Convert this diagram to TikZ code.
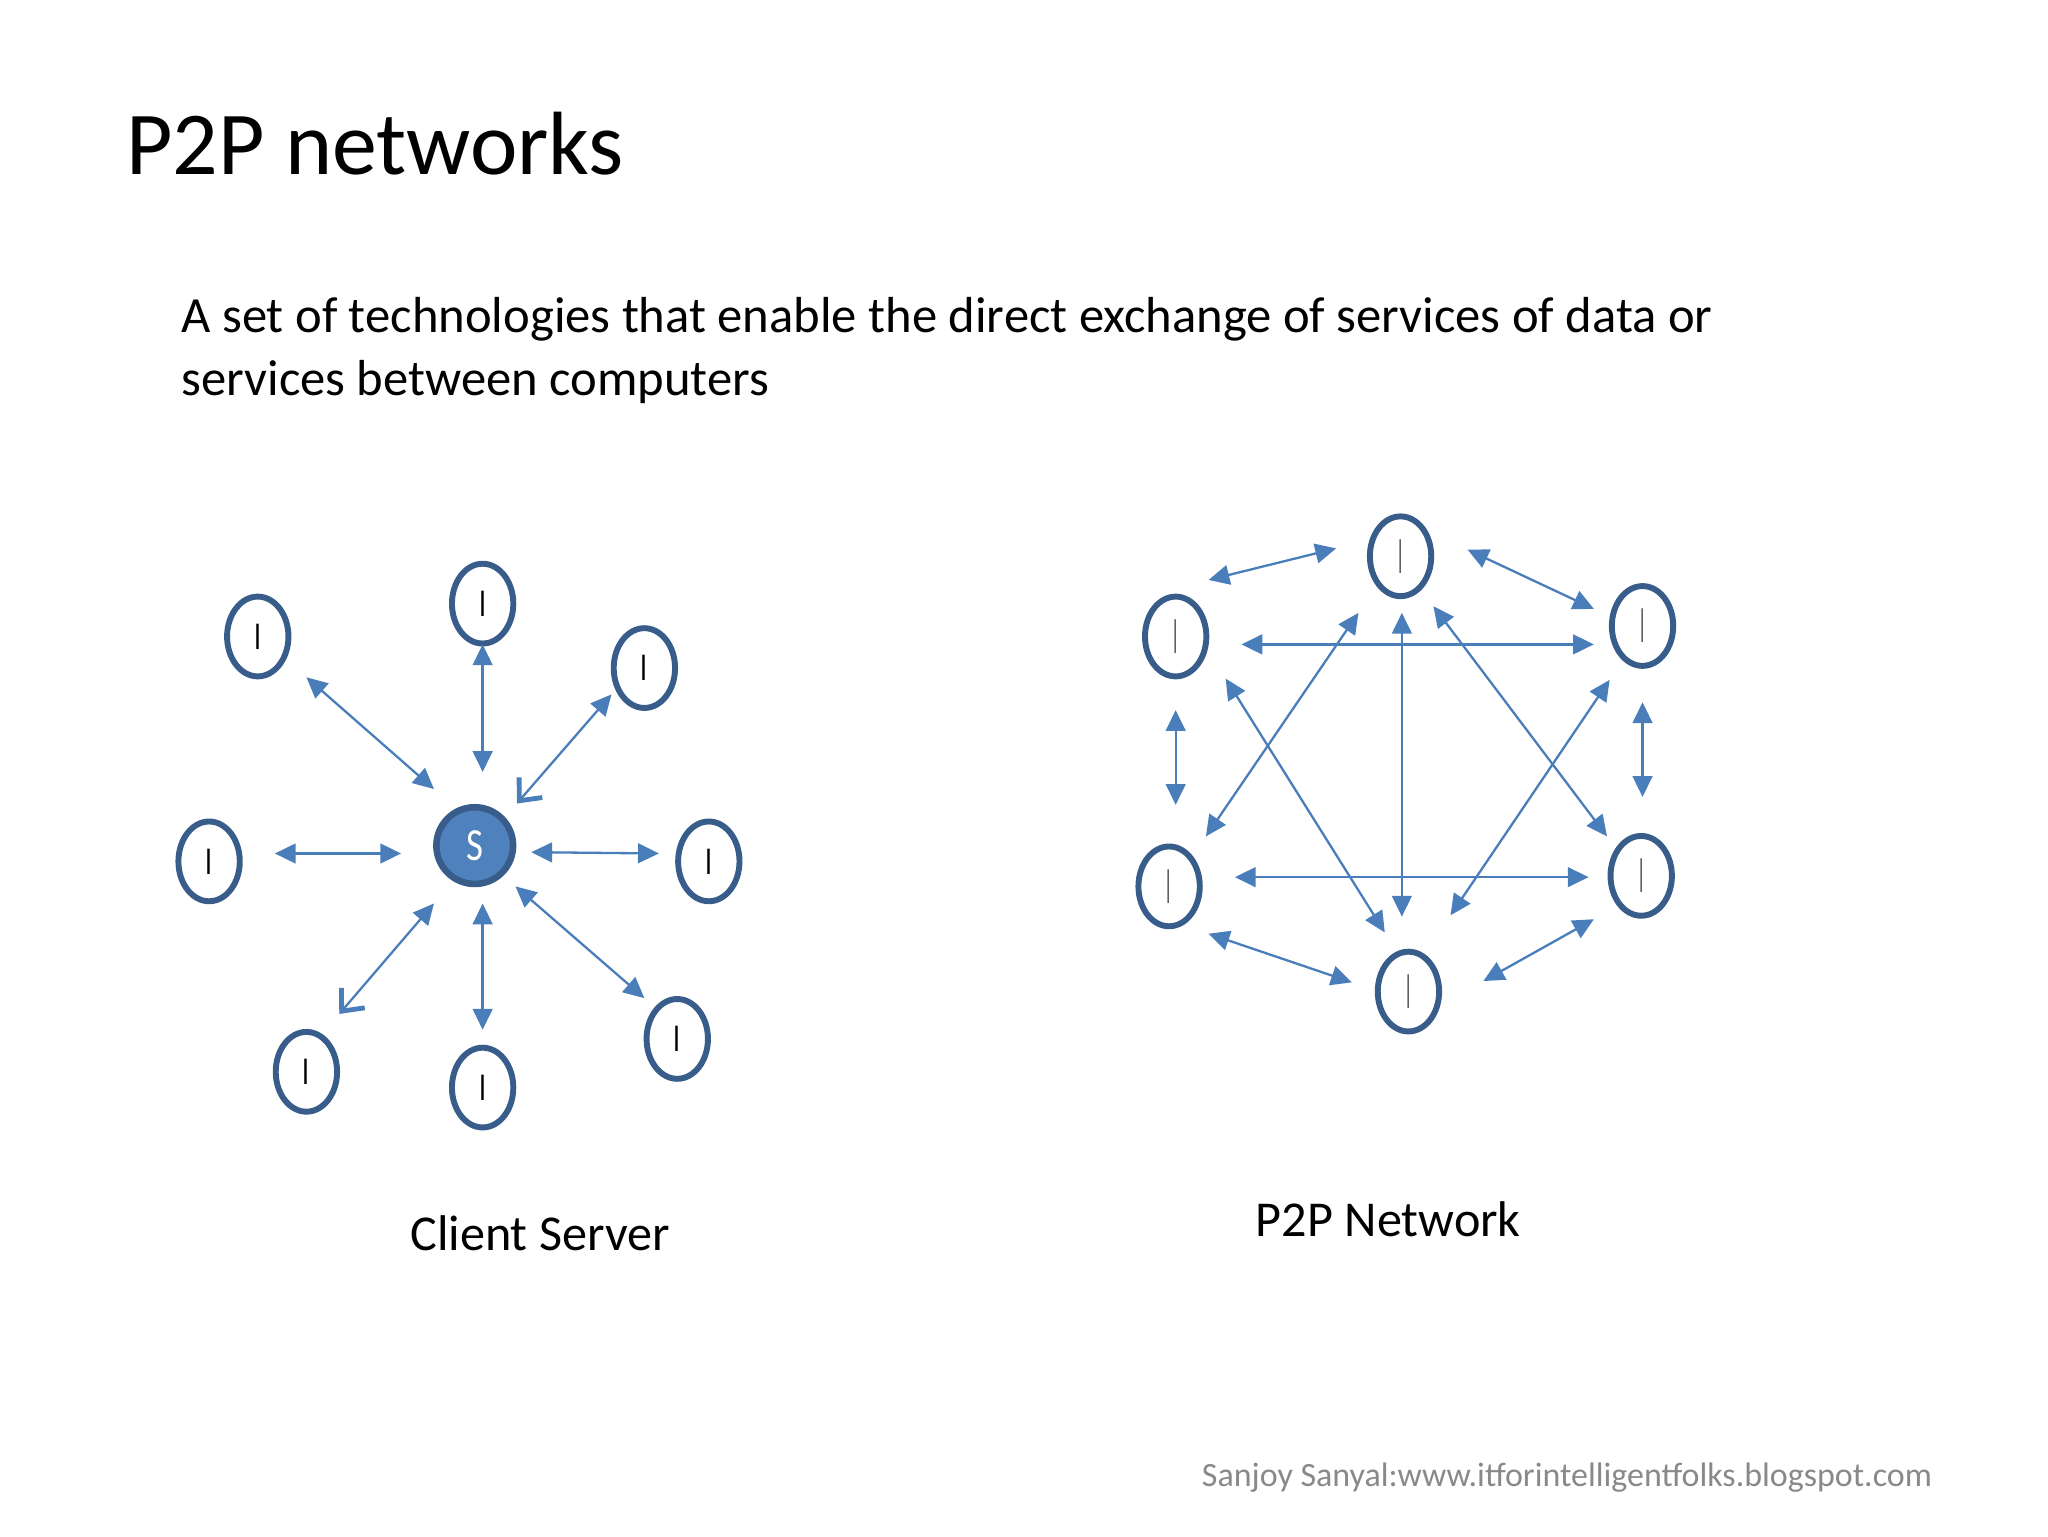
\documentclass[tikz,border=0pt]{standalone}
\usepackage{fontspec}
\setmainfont{Carlito}
\usetikzlibrary{shapes.geometric,arrows.meta,calc}
\definecolor{ring}{HTML}{385D8A}
\definecolor{link}{HTML}{4A7EBB}
\definecolor{srv}{HTML}{4F81BD}
\definecolor{foot}{HTML}{898989}
\tikzset{x=0.6pt,y=-0.6pt,
  peer/.style={draw=ring,line width=2.7pt,fill=white,ellipse,minimum width=28pt,minimum height=36.4pt,inner sep=0pt,outer sep=0pt},
  clientmark/.style={peer,font=\fontsize{18}{18}\selectfont,text=black},
  p2pmark/.style={peer,font=\fontsize{24}{24}\selectfont,text=black!65},
  server/.style={draw=ring,line width=3pt,fill=srv,circle,minimum size=35pt,inner sep=0pt,outer sep=0pt,text=white,font=\fontsize{21}{21}\selectfont},
  duplex/.style={draw=link,line width=1.05pt,{Triangle[length=9.5pt,width=9pt]}-{Triangle[length=9.5pt,width=9pt]}},
  barbed/.style={draw=link,line width=1.05pt,{Triangle[length=9.5pt,width=9pt]}-{Straight Barb[length=8pt,width=14pt,line width=2.2pt]}},
  lbl/.style={anchor=base west,inner sep=0pt,outer sep=0pt},
}
\newcommand{\thinI}{\scalebox{0.33}[1]{I}}
\newcommand{\fatI}{\scalebox{0.7}[1]{I}}
\begin{document}
\begin{tikzpicture}
\useasboundingbox (0,0) rectangle (1557.33,1168);
\node[lbl,font=\fontsize{41}{41}\selectfont] (title) at (96,133) {P2P networks};
\node[lbl,font=\fontsize{23.1}{23.1}\selectfont] (body1) at (138,253) {A set of technologies that enable the direct exchange of services of data or};
\node[lbl,font=\fontsize{23.1}{23.1}\selectfont] (body2) at (138,301) {services between computers};
\node[lbl,font=\fontsize{22.9}{22.9}\selectfont] (cap1) at (312,951) {Client Server};
\node[lbl,font=\fontsize{22.9}{22.9}\selectfont] (cap2) at (955,940) {P2P Network};
\node[lbl,font=\fontsize{15.5}{15.5}\selectfont,text=foot] (footer) at (914,1130) {Sanjoy Sanyal:www.itforintelligentfolks.blogspot.com};
% client server
\node[server] (s) at (361,643) {\scalebox{0.8}[1]{S}};
\node[clientmark] (c1) at (196,484) {\fatI};
\node[clientmark] (c2) at (367,459) {\fatI};
\node[clientmark] (c3) at (490,508) {\fatI};
\node[clientmark] (c4) at (159,655) {\fatI};
\node[clientmark] (c5) at (539,655) {\fatI};
\node[clientmark] (c6) at (515,790) {\fatI};
\node[clientmark] (c7) at (367,827) {\fatI};
\node[clientmark] (c8) at (233,815) {\fatI};
\draw[duplex] ($(c1)+(37,31)$) -- ($(s)+(-31,-43)$);
\draw[duplex] ($(c2)+(0,31)$) -- ($(s)+(6,-56)$);
\draw[barbed] ($(c3)+(-25,20)$) -- ($(s)+(32,-32)$);
\draw[duplex] ($(c4)+(50,-6)$) -- ($(s)+(-56,6)$);
\draw[duplex] ($(c5)+(-38,-6)$) -- ($(s)+(43,5)$);
\draw[duplex] ($(c6)+(-25,-31)$) -- ($(s)+(31,31)$);
\draw[duplex] ($(c7)+(0,-44)$) -- ($(s)+(6,44)$);
\draw[barbed] ($(s)+(-31,44)$) -- ($(c8)+(25,-44)$);
% p2p
\node[p2pmark] (p1) at (1065,423) {\thinI};
\node[p2pmark] (p2) at (1249,476) {\thinI};
\node[p2pmark] (p3) at (1248,666) {\thinI};
\node[p2pmark] (p4) at (1071,754) {\thinI};
\node[p2pmark] (p5) at (889,674) {\thinI};
\node[p2pmark] (p6) at (894,484) {\thinI};
\draw[duplex] ($(p6)+(25,-43)$) -- ($(p1)+(-49,-6)$);
\draw[duplex] ($(p1)+(51,-5)$) -- ($(p2)+(-37,-13)$);
\draw[duplex] ($(p6)+(50,6)$) -- ($(p2)+(-37,14)$);
\draw[duplex] ($(p1)+(-32,43)$) -- ($(p5)+(28,-38)$);
\draw[duplex] ($(p1)+(1,43)$) -- ($(p4)+(-5,-57)$);
\draw[duplex] ($(p1)+(25,38)$) -- ($(p3)+(-26,-30)$);
\draw[duplex] ($(p6)+(38,32)$) -- ($(p4)+(-18,-45)$);
\draw[duplex] ($(p2)+(-25,41)$) -- ($(p4)+(32,-58)$);
\draw[duplex] ($(p6)+(0,56)$) -- ($(p5)+(5,-62)$);
\draw[duplex] ($(p2)+(0,58)$) -- ($(p3)+(1,-60)$);
\draw[duplex] ($(p5)+(50,-7)$) -- ($(p3)+(-40,1)$);
\draw[duplex] ($(p5)+(30,36)$) -- ($(p4)+(-43,-7)$);
\draw[duplex] ($(p4)+(57,-8)$) -- ($(p3)+(-36,33)$);
\end{tikzpicture}
\end{document}
